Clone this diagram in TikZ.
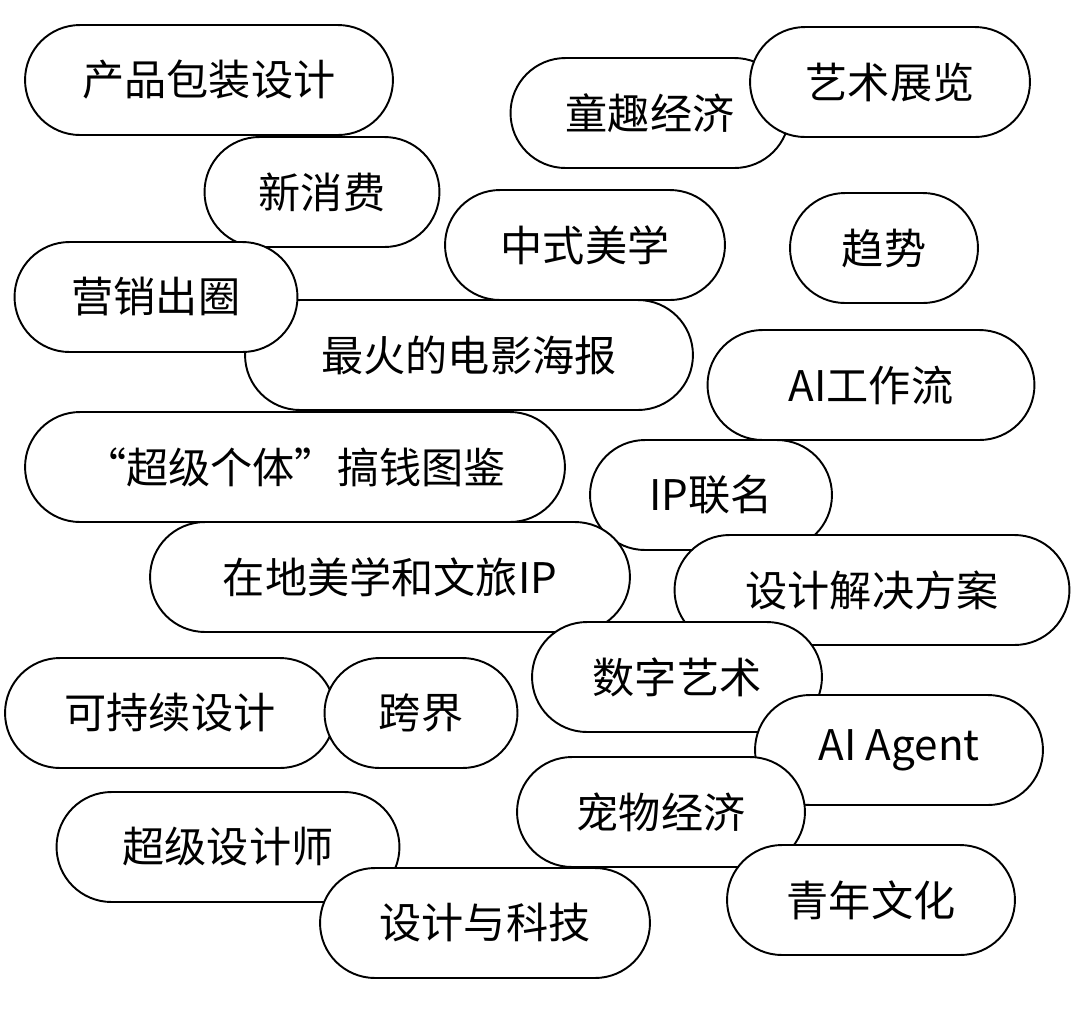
\documentclass[tikz,border=0pt]{standalone}
\usepackage{fontspec}
\newfontfamily\cjk{Noto Sans CJK SC}
\usetikzlibrary{positioning}

\begin{document}
\begin{tikzpicture}[x=0.02cm, y=-0.02cm,
                pill/.style={draw, fill=white, line width=1.1pt, rounded corners=1.1cm,
                  minimum height=2.2cm, inner sep=0pt, font=\cjk\fontsize{24}{24}\selectfont},
            ]
            \useasboundingbox (0,0) rectangle (1080,1009);

            % Top rows
            \node[pill, minimum width=7.36cm] (pack) at (209,80) {产品包装设计};
            \node[pill, minimum width=5.58cm] (kids) at (650,113) {童趣经济};
            \node[pill, minimum width=5.6cm] (art) at (890,82) {艺术展览};
            \node[pill, minimum width=4.7cm] (newc) at (322,192) {新消费};
            \node[pill, minimum width=5.6cm] (chn) at (585,245) {中式美学};
            \node[pill, minimum width=3.76cm] (trend) at (884,248) {趋势};
            \node[pill, minimum width=8.96cm] (film) at (469,355) {最火的电影海报};
            \node[pill, minimum width=5.66cm] (mkt) at (156,297) {营销出圈};
            \node[pill, minimum width=6.54cm] (aiwf) at (871,385) {AI工作流};

            % Middle rows
            \node[pill, minimum width=10.8cm] (solo) at (295,467) {“超级个体”搞钱图鉴};
            \node[pill, minimum width=4.84cm] (ip) at (711,495) {IP联名};
            \node[pill, minimum width=9.6cm] (local) at (390,577) {在地美学和文旅IP};
            \node[pill, minimum width=7.9cm] (sol) at (872,590) {设计解决方案};
            \node[pill, minimum width=5.8cm] (digi) at (677,677) {数字艺术};
            \node[pill, minimum width=6.6cm] (sust) at (170,713) {可持续设计};
            \node[pill, minimum width=3.86cm] (cross) at (421,713) {跨界};
            \node[pill, minimum width=5.76cm] (agent) at (899,750) {AI Agent};

            % Bottom rows
            \node[pill, minimum width=5.76cm] (pet) at (661,812) {宠物经济};
            \node[pill, minimum width=6.86cm] (super) at (228,847) {超级设计师};
            \node[pill, minimum width=6.6cm] (tech) at (485,923) {设计与科技};
            \node[pill, minimum width=5.76cm] (youth) at (871,900) {青年文化};

            \end{tikzpicture}
\end{document}
